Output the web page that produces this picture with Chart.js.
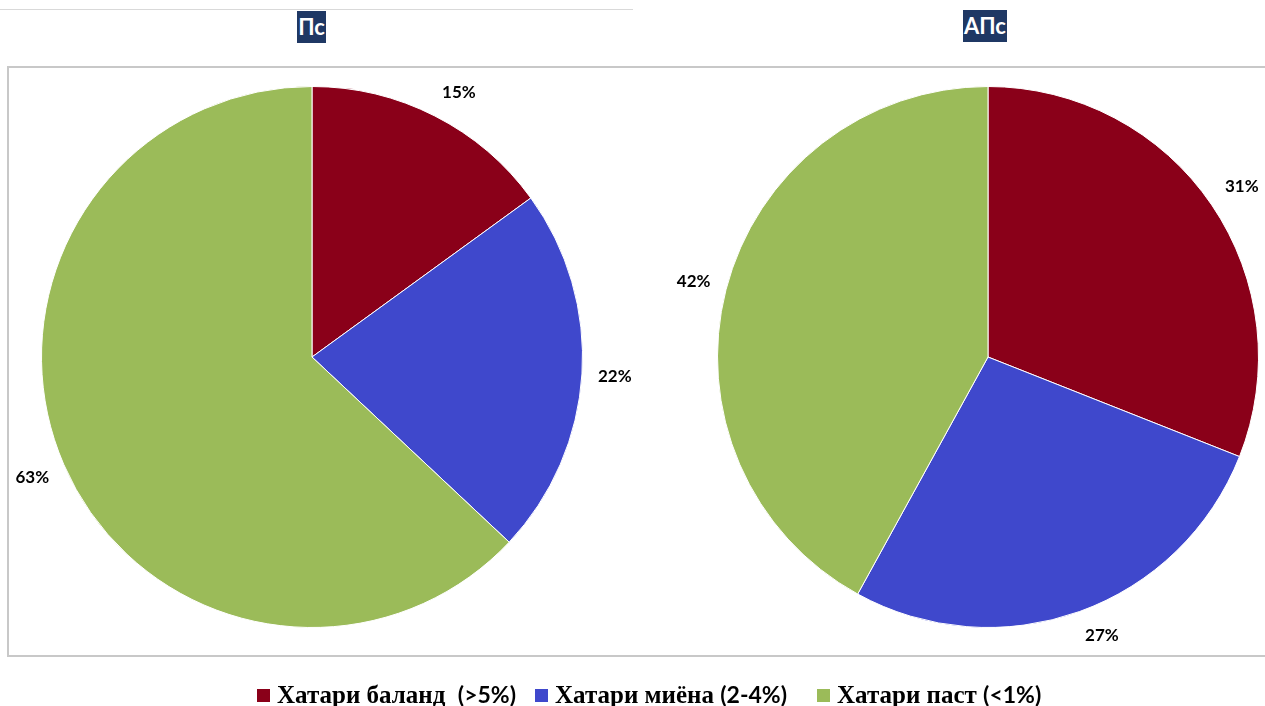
<!DOCTYPE html>
<html><head><meta charset="utf-8">
<script src="https://cdn.jsdelivr.net/npm/chart.js@4/dist/chart.umd.min.js"></script>
<style>
html,body{margin:0;padding:0;width:1265px;height:706px;overflow:hidden;background:#fff;}
.abs{position:absolute;}
.title{position:absolute;background:#1F3864;color:#fff;font-family:Lato,'Open Sans',sans-serif;font-weight:bold;font-size:22px;text-align:center;line-height:32px;height:32px;}
.leg{position:absolute;top:682px;font-family:'Liberation Serif',serif;font-weight:bold;font-size:25px;color:#000;white-space:pre;line-height:25px;}
.leg .p{font-family:Lato,'Open Sans',sans-serif;font-size:23px;}
.sw{position:absolute;width:13px;height:13px;top:689px;}
</style></head><body>
<div class="abs" style="left:0;top:9px;width:633px;height:1px;background:#d9d9d9"></div>
<div class="abs" style="left:7px;top:66px;width:1300px;height:587px;border:2px solid #c8c8c8;"></div>
<div class="title" style="left:297px;top:11px;width:29px">Пс</div>
<div class="title" style="left:963px;top:10px;width:44px">АПс</div>
<canvas id="c1" class="abs" style="left:-28px;top:17px"></canvas>
<canvas id="c2" class="abs" style="left:648px;top:17px"></canvas>
<div id="legend"></div>
<script>
const categories = ['Хатари баланд  (>5%)', 'Хатари миёна (2-4%)', 'Хатари паст (<1%)'];
const chartTitles = ['Пс', 'АПс'];
const valuesPs = [15, 22, 63];
const valuesAPs = [31, 27, 42];
const colors = ['#8A0019', '#3F48CC', '#9BBB59'];

const clamp = v => Math.max(-1, Math.min(1, v));
const labelPlugin = {
  id: 'outLabels',
  afterDatasetsDraw(chart) {
    const ctx = chart.ctx;
    const meta = chart.getDatasetMeta(0);
    const data = chart.data.datasets[0].data;
    ctx.save();
    ctx.font = 'bold 17px Lato, "Open Sans", sans-serif';
    ctx.fillStyle = '#000';
    ctx.textAlign = 'center';
    ctx.textBaseline = 'middle';
    meta.data.forEach((arc, i) => {
      const p = arc.getProps(['x','y','startAngle','endAngle','outerRadius'], true);
      const mid = (p.startAngle + p.endAngle) / 2;
      const r = p.outerRadius + 16;
      const txt = data[i] + '%';
      const w = ctx.measureText(txt).width, h = 18;
      const ax = p.x + Math.cos(mid) * r, ay = p.y + Math.sin(mid) * r;
      const cx = ax + w / 2 * clamp(Math.cos(mid) * 3);
      const cy = ay + h / 2 * clamp(Math.sin(mid) * 2);
      ctx.fillText(txt, cx, cy);
    });
    ctx.restore();
  }
};

function makePie(id, values) {
  const cv = document.getElementById(id);
  cv.width = 680; cv.height = 680;
  new Chart(cv, {
    type: 'pie',
    data: { labels: categories, datasets: [{ data: values, backgroundColor: colors, borderColor: '#ffffff', borderWidth: 1 }] },
    options: {
      responsive: false, animation: false,
      layout: { padding: 69 },
      plugins: { legend: { display: false }, tooltip: { enabled: false } }
    },
    plugins: [labelPlugin]
  });
}
makePie('c1', valuesPs);
makePie('c2', valuesAPs);

const legX = [257, 535, 817];
const legend = document.getElementById('legend');
categories.forEach((c, i) => {
  const s = document.createElement('div');
  s.className = 'sw'; s.style.left = legX[i] + 'px'; s.style.background = colors[i];
  legend.appendChild(s);
  const t = document.createElement('div');
  t.className = 'leg'; t.style.left = (legX[i] + 20) + 'px';
  const k = c.indexOf('(');
  const a = document.createElement('span'); a.textContent = c.slice(0, k);
  const b = document.createElement('span'); b.className = 'p'; b.textContent = c.slice(k);
  t.appendChild(a); t.appendChild(b);
  legend.appendChild(t);
});
</script>
</body></html>
